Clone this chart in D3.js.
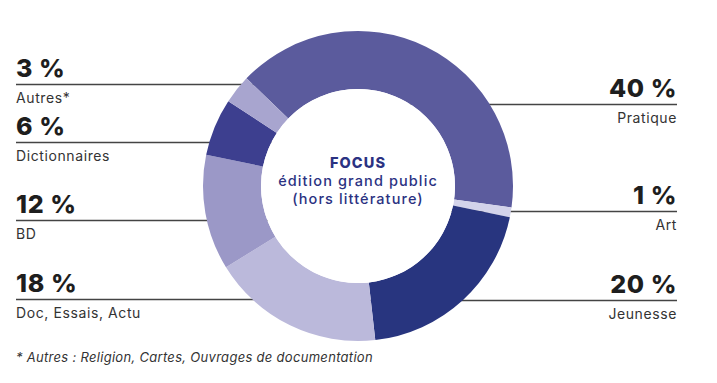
<!DOCTYPE html>
<html>
<head>
<meta charset="utf-8">
<script src="https://cdn.jsdelivr.net/npm/d3@7"></script>
<style>
  body { margin: 0; background: #fff; }
  svg { display: block; font-family: Inter, "Open Sans", sans-serif; }
  .pct { font-weight: 800; fill: #1e1e1e; font-size: 25px; letter-spacing: 0.6px; }
  .lbl { font-weight: 400; fill: #333; font-size: 14px; letter-spacing: 0.6px; }
  .lead { stroke: #444; stroke-width: 1.3; }
  .center { fill: #2b3282; text-anchor: middle; font-size: 14.5px; letter-spacing: 1.1px; }
</style>
</head>
<body>
<div id="chart"></div>
<script>
// data (clockwise from top-left)
const categories = ["Pratique", "Art", "Jeunesse", "Doc, Essais, Actu", "BD", "Dictionnaires", "Autres*"];
const values = [40, 1, 20, 18, 12, 6, 3];
const colors = ["#5b5b9d", "#d3d3ea", "#28357f", "#bbb9db", "#9b98c7", "#3d3f8f", "#a8a5cf"];
const footnote = "* Autres : Religion, Cartes, Ouvrages de documentation";

// where each label row sits (side + leader line y)
const labelRows = {
    "Pratique": { side: "right", y: 104.5 },
    "Art": { side: "right", y: 211.5 },
    "Jeunesse": { side: "right", y: 300.5 },
    "Doc, Essais, Actu": { side: "left", y: 299.5 },
    "BD": { side: "left", y: 220.5 },
    "Dictionnaires": { side: "left", y: 142.5 },
    "Autres*": { side: "left", y: 84.5 }
};

document.addEventListener("DOMContentLoaded", draw);

function draw() {
    const width = 717;
    const height = 383;
    const cx = 358, cy = 186;
    const outer = 155, inner = 97;
    const leftX = 16, rightX = 677;

    const svg = d3.select("#chart").append("svg")
        .attr("width", width)
        .attr("height", height);

    const data = categories.map((c, i) => ({ name: c, value: values[i], color: colors[i] }));

    // leader lines go under the ring
    const rows = svg.append("g");
    data.forEach(d => {
        const r = labelRows[d.name];
        const g = rows.append("g");
        const x0 = r.side === "left" ? leftX : rightX;
        const anchor = r.side === "left" ? "start" : "end";
        g.append("line")
            .attr("class", "lead")
            .attr("x1", x0)
            .attr("x2", cx)
            .attr("y1", r.y)
            .attr("y2", r.y);
        g.append("text")
            .attr("class", "pct")
            .attr("x", x0)
            .attr("y", r.y - 8)
            .attr("text-anchor", anchor)
            .text(d.value + " %");
        g.append("text")
            .attr("class", "lbl")
            .attr("x", x0)
            .attr("y", r.y + 18)
            .attr("text-anchor", anchor)
            .text(d.name);
    });

    const start = -46 * Math.PI / 180;
    const pie = d3.pie()
        .sort(null)
        .value(d => d.value)
        .startAngle(start)
        .endAngle(start + 2 * Math.PI);
    const arc = d3.arc()
        .innerRadius(inner)
        .outerRadius(outer);

    const ring = svg.append("g")
        .attr("transform", "translate(" + cx + "," + cy + ")");
    ring.selectAll("path")
        .data(pie(data))
        .enter()
        .append("path")
        .attr("d", arc)
        .attr("fill", d => d.data.color);
    // white hole hides the leader lines
    ring.append("circle")
        .attr("r", inner)
        .attr("fill", "#fff");

    const center = ring.append("g").attr("class", "center");
    center.append("text")
        .attr("y", -18)
        .attr("font-weight", 800)
        .text("FOCUS");
    center.append("text")
        .attr("y", 0)
        .attr("font-weight", 500)
        .text("édition grand public");
    center.append("text")
        .attr("y", 17.5)
        .attr("font-weight", 500)
        .text("(hors littérature)");

    svg.append("text")
        .attr("x", leftX)
        .attr("y", 362)
        .attr("font-style", "italic")
        .attr("font-size", 13)
        .attr("letter-spacing", 0.3)
        .attr("fill", "#333")
        .text(footnote);
}
</script>
</body>
</html>
